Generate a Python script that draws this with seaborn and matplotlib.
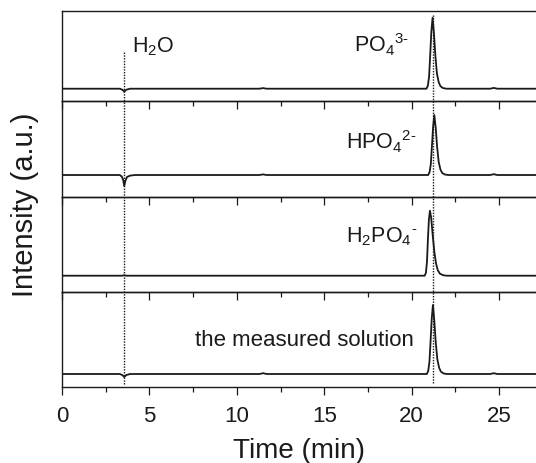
import numpy as np
import pandas as pd
import seaborn as sns
import matplotlib
matplotlib.use("Agg")
import matplotlib.pyplot as plt
from matplotlib.lines import Line2D
from matplotlib.transforms import blended_transform_factory
from matplotlib.ticker import MultipleLocator

# ---------------- data ----------------
labels = [r"$\mathregular{PO_4{}^{3\text{-}}}$", r"$\mathregular{HPO_4{}^{2\text{-}}}$",
          r"$\mathregular{H_2PO_4{}^{\text{-}}}$", "the measured solution"]

t_po4 = [0, 3.30, 3.45, 3.56, 3.68, 3.90, 11.3, 11.5, 11.7, 20.85, 20.93, 21.00, 21.06,
         21.13, 21.20, 21.28, 21.36, 21.45, 21.55, 21.65, 21.80, 22.0, 24.5, 24.7, 24.9, 27.2]
i_po4 = [0, 0, -1.0, -3.0, -1.0, 0, 0, 0.6, 0, 0, 3, 12, 32, 57, 71, 55, 33, 15, 6.5, 2.5,
         0.6, 0, 0, 0.8, 0, 0]

t_hpo4 = [0, 3.30, 3.42, 3.50, 3.56, 3.62, 3.72, 3.90, 4.2, 11.3, 11.5, 11.7, 20.95, 21.03,
          21.10, 21.16, 21.23, 21.30, 21.38, 21.46, 21.55, 21.65, 21.75, 21.90, 22.1,
          24.5, 24.7, 24.9, 27.2]
i_hpo4 = [0, 0, -1.5, -5, -11, -6, -2, -0.6, 0, 0, 0.6, 0, 0, 3, 11, 28, 48, 60, 47, 28,
          13, 5.5, 2, 0.5, 0, 0, 0.8, 0, 0]

t_h2po4 = [0, 3.45, 3.56, 3.67, 20.75, 20.82, 20.88, 20.93, 20.99, 21.05, 21.12, 21.20,
           21.30, 21.40, 21.50, 21.62, 21.80, 22.0, 27.2]
i_h2po4 = [0, 0, 0.5, 0, 0, 3, 14, 35, 56, 65, 58, 42, 24, 12, 5.5, 2, 0.5, 0, 0]

t_meas = [0, 3.30, 3.45, 3.56, 3.68, 3.90, 11.3, 11.5, 11.7, 20.87, 20.95, 21.02, 21.08,
          21.15, 21.22, 21.30, 21.38, 21.47, 21.57, 21.67, 21.82, 22.0, 24.5, 24.7, 24.9, 27.2]
i_meas = [0, 0, -1.0, -3.0, -1.0, 0, 0, 0.8, 0, 0, 3, 12, 31, 55, 69, 53, 32, 15, 6.5, 2.5,
          0.6, 0, 0, 0.8, 0, 0]

water_time = 3.56
phosphate_time = 21.2
x_ticks = [0, 5, 10, 15, 20, 25]

traces = [(t_po4, i_po4), (t_hpo4, i_hpo4), (t_h2po4, i_h2po4), (t_meas, i_meas)]

# ---------------- style ----------------
sns.set_theme(style="ticks")
plt.rcParams["font.family"] = ["Liberation Sans", "DejaVu Sans"]
plt.rcParams["mathtext.fontset"] = "custom"
plt.rcParams["mathtext.rm"] = "Liberation Sans"
plt.rcParams["mathtext.it"] = "Liberation Sans:italic"
plt.rcParams["mathtext.bf"] = "Liberation Sans:bold"

W, H = 536, 463
fig = plt.figure(figsize=(W / 100, H / 100), dpi=100)
fig.patch.set_facecolor("white")

ink = "#1a1a1a"
x0_px = 62
px_per_min = 17.48
xmax = (W - x0_px) / px_per_min

# panel pixel bounds (top, bottom) and baseline pixel
panels_px = [(10.5, 101.0, 88.7), (101.0, 197.0, 175.0), (197.0, 291.5, 275.7), (291.5, 387.0, 374.0)]
label_pos = [(16.7, 52.0), (16.25, 149.5), (16.25, 242.0), (7.6, 345.5)]

axes = []
for k, ((top, bot, base), (tt, ii)) in enumerate(zip(panels_px, traces)):
    ax = fig.add_axes([x0_px / W, 1 - bot / H, (W - x0_px) / W, (bot - top) / H])
    ax.patch.set_visible(False)
    df = pd.DataFrame({"Time": tt, "Intensity": ii})
    sns.lineplot(data=df, x="Time", y="Intensity", ax=ax, color=ink, linewidth=1.3,
                 estimator=None, sort=False)
    ax.set_xlim(0, xmax)
    ax.set_ylim(-(bot - base), base - top)
    ax.set_yticks([])
    ax.set_ylabel("")
    ax.set_xlabel("")
    ax.set_xticks(x_ticks)
    ax.xaxis.set_minor_locator(MultipleLocator(2.5))
    ax.tick_params(axis="x", which="major", direction="out", length=5.8, width=0.9,
                   color=ink, labelsize=16, labelcolor=ink, pad=8)
    ax.tick_params(axis="x", which="minor", direction="out", length=3.6, width=0.9, color=ink)
    for s in ["top", "bottom", "left"]:
        ax.spines[s].set_linewidth(1.0)
        ax.spines[s].set_color(ink)
    ax.spines["right"].set_visible(False)
    if k < 3:
        ax.tick_params(axis="x", which="both", labelbottom=False)
    lx, ly_px = label_pos[k]
    ax.text(lx, base - ly_px, labels[k], fontsize=16 if k == 3 else 15.5, color=ink,
            va="baseline", ha="left")
    axes.append(ax)

# H2O label in the top panel
top, bot, base = panels_px[0]
axes[0].text(4.0, base - 52.0, r"$\mathregular{H_2O}$", fontsize=15.5, color=ink,
             va="baseline", ha="left")

axes[-1].set_xlabel("Time (min)", fontsize=20, color=ink, labelpad=8)
fig.text(25 / W, 1 - 205 / H, "Intensity (a.u.)", rotation=90, fontsize=21, color=ink,
         ha="center", va="center")

# dotted guide lines spanning all panels
tr = blended_transform_factory(axes[-1].transData, fig.transFigure)
fig.add_artist(Line2D([water_time, water_time], [1 - 384 / H, 1 - 52 / H], transform=tr,
                      color=ink, linewidth=1.0, linestyle=(0, (1, 1))))
fig.add_artist(Line2D([phosphate_time, phosphate_time], [1 - 383 / H, 1 - 15 / H], transform=tr,
                      color=ink, linewidth=1.0, linestyle=(0, (1, 1))))

fig.savefig("out.png", dpi=100)
